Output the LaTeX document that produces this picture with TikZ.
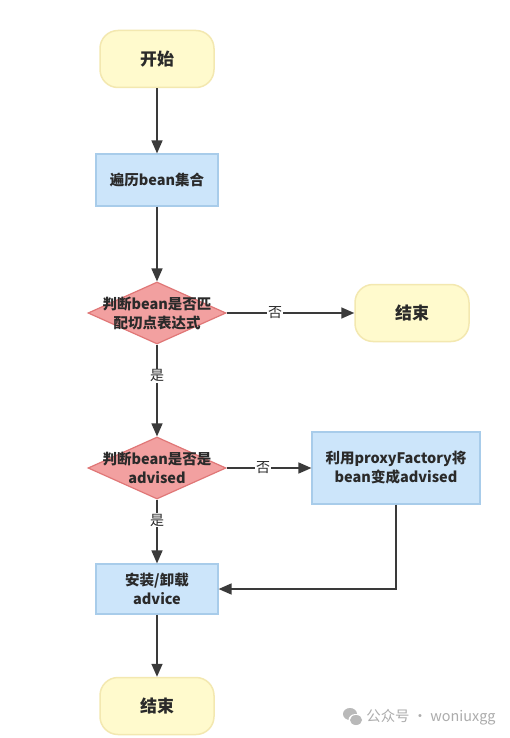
\documentclass[tikz,border=0pt]{standalone}
\usepackage{fontspec}
\usetikzlibrary{shapes.geometric,arrows.meta}
\setmainfont{Noto Sans CJK SC}
\newfontfamily\cjk{Noto Sans CJK SC}
\definecolor{termfill}{HTML}{FFFACD}
\definecolor{termline}{HTML}{F3E8B0}
\definecolor{procfill}{HTML}{CCE5FA}
\definecolor{procline}{HTML}{A8CCEA}
\definecolor{decfill}{HTML}{F2A0A0}
\definecolor{decline}{HTML}{E07777}
\definecolor{arrowc}{HTML}{3A3A3A}
\definecolor{txt}{HTML}{2A2A2A}
\tikzset{
  term/.style={draw=termline, line width=1.5pt, fill=termfill, rounded corners=18pt,
    minimum width=114pt, minimum height=57pt, font=\cjk\bfseries\fontsize{17}{20}\selectfont, text=txt},
  proc/.style={draw=procline, line width=1.2pt, fill=procfill,
    font=\cjk\bfseries\fontsize{14.5}{19}\selectfont, text=txt, align=center},
  dec/.style={diamond, draw=decline, line width=1.2pt, fill=decfill, inner sep=0pt,
    minimum width=138pt, minimum height=62pt},
  dectext/.style={font=\cjk\bfseries\fontsize{14.5}{19}\selectfont, text=txt, align=center},
  conn/.style={draw=arrowc, line width=1.6pt, -{Triangle[length=13pt,width=11pt]}},
  lab/.style={fill=white, inner sep=1pt, font=\cjk\fontsize{14}{16}\selectfont, text=txt},
}
\begin{document}
\begin{tikzpicture}[x=1pt,y=-1pt]
\useasboundingbox[fill=white] (0,0) rectangle (510,738);
\node[term] (start) at (157,59) {开始};
\node[proc, minimum width=122pt, minimum height=52pt] (iter) at (157,180) {遍历bean集合};
\node[dec, label={[dectext]center:判断bean是否匹\\配切点表达式}] (d1) at (157,313) {};
\node[term] (end1) at (412,313) {结束};
\node[dec, label={[dectext]center:判断bean是否是\\advised}] (d2) at (157,468) {};
\node[proc, minimum width=168pt, minimum height=72pt] (proxy) at (396,468) {利用proxyFactory将\\bean变成advised};
\node[proc, minimum width=122pt, minimum height=50pt] (inst) at (157,589) {安装/卸载\\advice};
\node[term] (end2) at (157,706) {结束};
\coordinate (corner) at (proxy.south |- inst.east);
\draw[conn] (start) -- (iter);
\draw[conn] (iter) -- (d1);
\draw[conn] (d1) -- node[lab, pos=0.38] {否} (end1);
\draw[conn] (d1) -- node[lab, pos=0.34] {是} (d2);
\draw[conn] (d2) -- node[lab, pos=0.43] {否} (proxy);
\draw[conn] (d2) -- node[lab, pos=0.32] {是} (inst);
\draw[conn] (proxy.south) -- (corner) -- (inst.east);
\draw[conn] (inst) -- (end2);
\node[font=\cjk\fontsize{14.4}{16}\selectfont, text=gray!65] (wm) at (431,717) {公众号 · woniuxgg};
\fill[gray!55] (350,714) ellipse (7pt and 6pt);
\fill[white] (355.5,720) ellipse (7pt and 6pt);
\fill[gray!55] (356,720) ellipse (6pt and 5pt);
\end{tikzpicture}
\end{document}
